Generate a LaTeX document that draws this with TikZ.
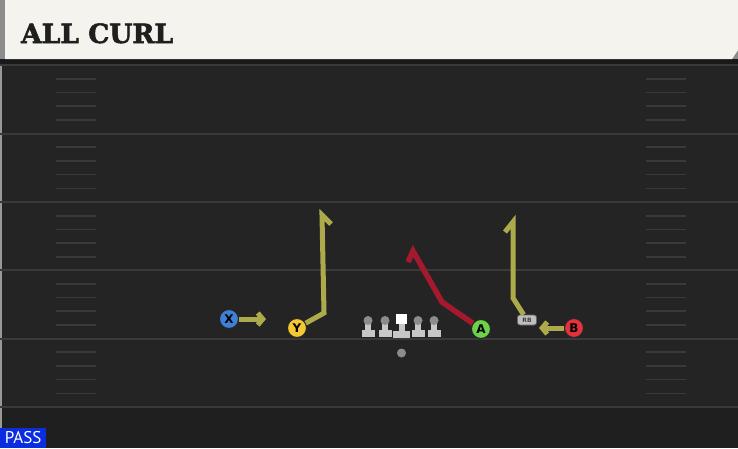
\documentclass[tikz,border=0pt]{standalone}
\usepackage{fontspec}
\setsansfont{DejaVu Sans}
\newfontfamily\titlefont[FakeBold=2]{DejaVu Serif Bold}
\newfontfamily\tagfont{PT Sans}
\usetikzlibrary{arrows.meta}

\definecolor{fieldgray}{HTML}{242424}
\definecolor{yardgray}{HTML}{3A3A3A}
\definecolor{headcream}{HTML}{F5F3ED}
\definecolor{routeolive}{HTML}{ADAA4C}
\definecolor{routered}{HTML}{A5192F}
\definecolor{xblue}{HTML}{3F7FD8}
\definecolor{yyellow}{HTML}{F4C733}
\definecolor{agreen}{HTML}{6CD24A}
\definecolor{bred}{HTML}{E2333D}
\definecolor{passblue}{HTML}{0B2DE0}

\begin{document}
\begin{tikzpicture}[
    x=1pt, y=-1pt,
    yardline/.style={draw=yardgray, line width=2pt},
    hashmark/.style={draw=yardgray, line width=1.6pt},
    player/.style={circle, draw=black!85, line width=1pt, minimum size=19pt, inner sep=0pt, font=\sffamily\bfseries\fontsize{12}{12}\selectfont},
    route/.style={draw=routeolive, line width=5pt, line join=miter},
    hotroute/.style={route, draw=routered, line width=5.5pt},
    motion/.style={route, -{Straight Barb[length=5pt, width=12pt]}},
    lineman/.style={fill=black!22, draw=none}
]
\useasboundingbox (0,0) rectangle (738,448);

% Field
\fill[fieldgray] (0,0) rectangle (738,448);
\fill[black!88] (0,407) rectangle (738,448);
\fill[black!40] (0,64) rectangle (2,448);
\fill[black!90] (0,59) rectangle (738,64);

% Header
\fill[black!45] (0,0) rectangle (738,59);
\fill[headcream] (5,0) -- (738,0) -- (738,50) -- (732,59) -- (5,59) -- cycle;
\node[anchor=base west, inner sep=0pt, font=\titlefont\fontsize{26.5}{26.5}\selectfont, text=black!88] (title) at (21,43) {ALL CURL};

% Yard lines
\foreach \y in {65,133.5,202,270,338.5,407}
  \draw[yardline] (0,\y) -- (738,\y);

% Hash marks
\foreach \y in {65,133.5,202,270,338.5}
  \foreach \k in {1,2,3,4} {
    \draw[hashmark] (56,\y+13.7*\k) -- (96,\y+13.7*\k);
    \draw[hashmark] (646,\y+13.7*\k) -- (686,\y+13.7*\k);
  }

% Offensive line
\foreach \x in {368,385,418,434} {
  \fill[lineman] (\x-6.5,330) rectangle (\x+6.5,336.5);
  \fill[lineman] (\x-3,323) rectangle (\x+3,330);
  \fill[black!45] (\x,320.5) circle (4.5);
}
\fill[lineman] (393,331) rectangle (410,337.5);
\fill[lineman] (398.5,324) rectangle (404.5,331);
\node[fill=white, minimum size=10.5pt, inner sep=0pt] (center) at (401.5,319) {};
\node[circle, fill=black!45, minimum size=9pt, inner sep=0pt] (qb) at (401.5,353) {};

% Players
\node[player, fill=xblue] (x) at (229,319) {X};
\node[player, fill=yyellow] (y) at (297,328) {Y};
\node[player, fill=agreen] (a) at (481,329) {A};
\node[player, fill=bred] (b) at (574,328) {B};
\node[rectangle, rounded corners=2.5pt, fill=black!25, draw=black!60, line width=0.7pt, minimum width=19pt, minimum height=10pt, inner sep=0pt, font=\sffamily\bfseries\fontsize{6}{6}\selectfont, text=black!75] (rb) at (527,320) {RB};

% Routes
\coordinate (xend) at (266,319);
\coordinate (ybreak) at (324,313);
\coordinate (ytop) at (322,215);
\coordinate (yhook) at (331,224);
\coordinate (abreak) at (442,302);
\coordinate (atop) at (413,251);
\coordinate (ahook) at (408,262);
\coordinate (rbbreak) at (513,298);
\coordinate (rbtop) at (513,222);
\coordinate (rbhook) at (505,232);
\coordinate (bend) at (539,328);

\draw[motion] (x) -- (xend);
\draw[route] (y) -- (ybreak) -- (ytop) -- (yhook);
\draw[hotroute] (a) -- (abreak) -- (atop) -- (ahook);
\draw[route] (rb) -- (rbbreak) -- (rbtop) -- (rbhook);
\draw[motion] (b) -- (bend);

% Play type
\node[anchor=south west, fill=passblue, minimum width=46pt, minimum height=20pt, inner sep=0pt, text=white, font=\tagfont\fontsize{17}{17}\selectfont] (pass) at (0,448) {PASS};

\end{tikzpicture}
\end{document}
